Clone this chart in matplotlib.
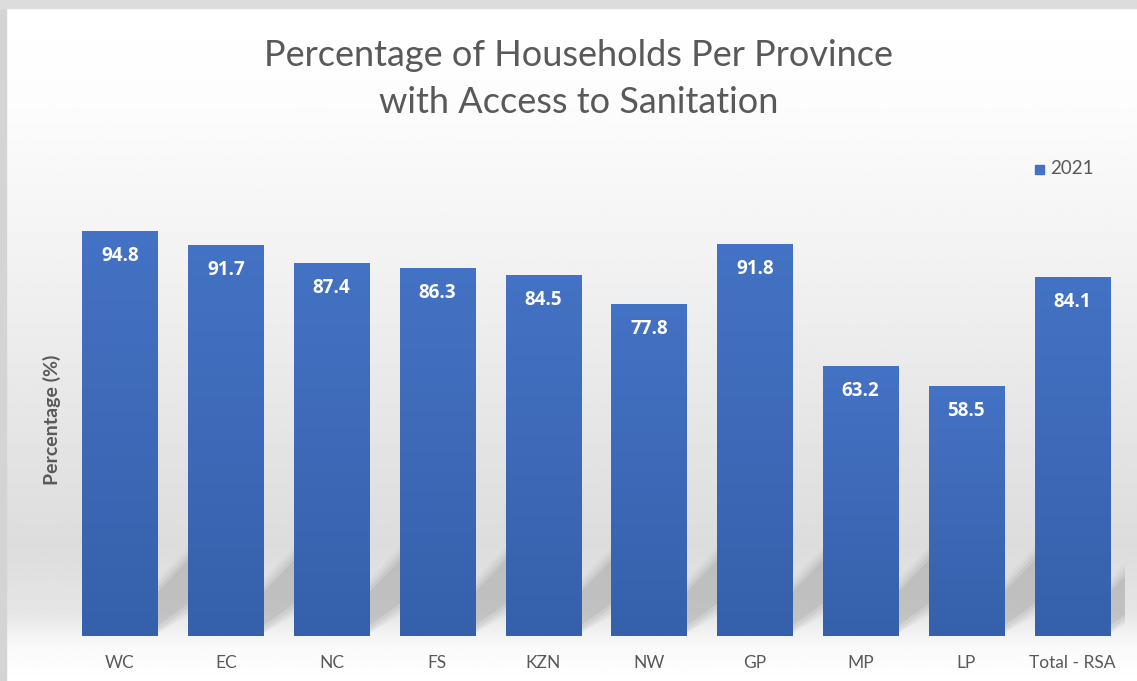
import numpy as np
import matplotlib.pyplot as plt
from matplotlib.colors import LinearSegmentedColormap
from matplotlib.patches import Polygon, Rectangle

# Data
provinces = ['WC', 'EC', 'NC', 'FS', 'KZN', 'NW', 'GP', 'MP', 'LP', 'Total - RSA']
access_2021 = [94.8, 91.7, 87.4, 86.3, 84.5, 77.8, 91.8, 63.2, 58.5, 84.1]

plt.rcParams['font.family'] = ['Lato', 'DejaVu Sans']
grey_txt = '#595959'

fig = plt.figure(figsize=(11.37, 6.81), dpi=100)

# background gradient (white top, grey band low, white at bottom)
bg = fig.add_axes([0, 0, 1, 1], zorder=-10)
stops = np.array([0.0, 0.15, 0.35, 0.6, 0.8, 0.9, 0.95, 1.0])
vals = np.array([1.0, 0.99, 0.955, 0.905, 0.865, 0.9, 0.98, 1.0])
yy = np.linspace(0, 1, 400)
grad = np.interp(yy, stops, vals)[:, None]
bg.imshow(grad, aspect='auto', cmap='gray', vmin=0, vmax=1, extent=[0, 1, 1, 0])
bg.set_xlim(0, 1)
bg.set_ylim(1, 0)
bg.axis('off')
# frame of the screenshot
fig.patches.append(Rectangle((0, 0), 0.005, 1, transform=fig.transFigure, color='#d4d4d4', zorder=-5))
fig.patches.append(Rectangle((0, 1 - 0.012), 1, 0.012, transform=fig.transFigure, color='#dcdcdc', zorder=-5))

ax = fig.add_axes([0.059, 0.066, 0.9305, 0.627])
ax.patch.set_alpha(0)
x = np.arange(len(provinces))
w = 0.71
gap = 1 - w

bars = ax.bar(x, access_2021, width=w, color='none', zorder=3)
ax.set_xlim(-0.5, len(provinces) - 0.5)
ax.set_ylim(0, 100)

# soft diagonal shadows in the gaps to the right of each bar
for xi in x:
    xr = xi + w / 2
    for grow, a in [(6, 0.05), (4, 0.07), (2, 0.09), (0, 0.12)]:
        lo0, lo1 = 1.5 - grow * 0.5, 8.5 - grow * 0.5
        hi0, hi1 = 9 + grow * 0.5, 19 + grow * 0.5
        poly = Polygon([(xr - 0.05, max(lo0, 0)), (xr + gap + 0.05, lo1),
                        (xr + gap + 0.05, hi1), (xr - 0.05, hi0)],
                       closed=True, color='#707070', alpha=a, lw=0, zorder=1)
        ax.add_patch(poly)

# bar gradient fill
bar_cmap = LinearSegmentedColormap.from_list('barg', ['#3560aa', '#3e69b8', '#4472c4'])
g = np.linspace(0, 1, 256)[:, None]
for b in bars:
    im = ax.imshow(g, cmap=bar_cmap, aspect='auto', origin='lower',
                   extent=[b.get_x(), b.get_x() + b.get_width(), 0, b.get_height()], zorder=2)
    im.set_clip_path(b)

for xi, v in zip(x, access_2021):
    ax.annotate(f'{v:.1f}', (xi, v), xytext=(0, -18), textcoords='offset points',
                ha='center', va='center', color='white', fontsize=13.5, fontweight='bold',
                family=['Open Sans', 'DejaVu Sans'], zorder=4)

ax.set_xticks(x)
ax.set_xticklabels(provinces, fontsize=12.5, color=grey_txt)
ax.tick_params(axis='x', length=0, pad=14)
ax.set_yticks([])
for s in ax.spines.values():
    s.set_visible(False)

fig.text(0.046, 0.383, 'Percentage (%)', rotation=90, ha='center', va='center',
         fontsize=14, fontweight='bold', color=grey_txt)

fig.text(0.509, 0.884, 'Percentage of Households Per Province\nwith Access to Sanitation',
         ha='center', va='center', fontsize=26, color=grey_txt, linespacing=1.55)

# legend
fig.patches.append(Rectangle((0.9105, 0.745), 0.0075, 0.0125, transform=fig.transFigure,
                             color='#4472c4', zorder=5))
fig.text(0.924, 0.752, '2021', ha='left', va='center', fontsize=13.5, color=grey_txt)

fig.savefig('out.png', dpi=100)
